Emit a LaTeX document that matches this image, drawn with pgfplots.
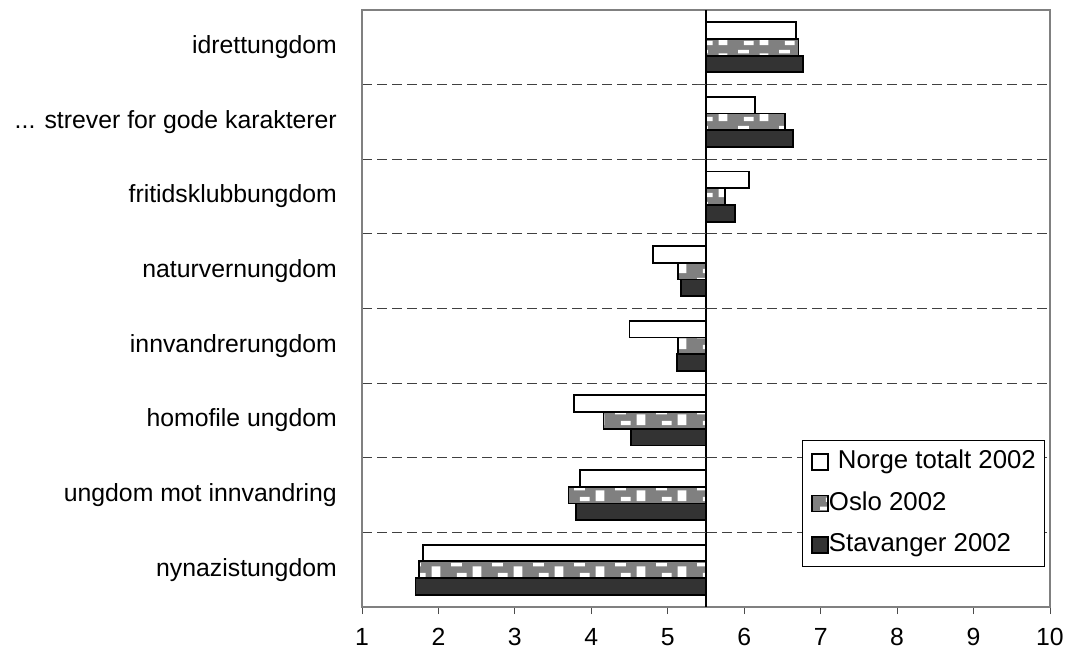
\documentclass[border=0pt]{standalone}
\usepackage{fontspec}
\setmainfont{Liberation Sans}
\usepackage{pgfplots}
\pgfplotsset{compat=1.18}
\usepackage{pgfplotstable}
\usetikzlibrary{patterns}

\definecolor{oslogray}{HTML}{808080}
\definecolor{stavgray}{HTML}{333333}

\pgfdeclarepatternformonly{oslo}{\pgfqpoint{0bp}{0bp}}{\pgfqpoint{41bp}{18.65bp}}{\pgfqpoint{41bp}{18.65bp}}{%
 \pgfpathrectangle{\pgfqpoint{0bp}{14bp}}{\pgfqpoint{11bp}{3.35bp}}%
 \pgfpathrectangle{\pgfqpoint{6bp}{3bp}}{\pgfqpoint{10bp}{4.35bp}}%
 \pgfpathrectangle{\pgfqpoint{22bp}{3bp}}{\pgfqpoint{9bp}{11bp}}%
 \pgfusepath{fill}}

\pgfplotsset{
  sqlegend/.style={legend image code/.code={\draw[##1] (0bp,-8bp) rectangle (16bp,8bp);}},
}

% values on a 1-10 scale; bars start at 5.5
\pgfplotstableread{
idx norge oslo stav
7 6.68 6.71 6.77
6 6.14 6.53 6.64
5 6.06 5.75 5.88
4 4.81 5.13 5.17
3 4.50 5.13 5.12
2 3.77 4.16 4.52
1 3.85 3.70 3.80
0 1.80 1.75 1.70
}\datatable

\newcommand{\threedots}{.\kern0pt.\kern0pt.}

\begin{document}
\fontsize{24.8bp}{29bp}\selectfont
\begin{tikzpicture}
\useasboundingbox (0,0) rectangle (1072bp,654bp);
\begin{axis}[
  at={(362bp,47bp)}, anchor=south west,
  scale only axis, width=688bp, height=597bp,
  xmin=-4.5, xmax=4.5, ymin=-0.5, ymax=7.5,
  xtick={-4.5,-3.5,-2.5,-1.5,-0.5,0.5,1.5,2.5,3.5,4.5},
  xticklabels={1,2,3,4,5,6,7,8,9,10},
  ytick={0,1,2,3,4,5,6,7},
  yticklabels={nynazistungdom,ungdom mot innvandring,homofile ungdom,innvandrerungdom,naturvernungdom,fritidsklubbungdom,{\threedots{} strever for gode karakterer},idrettungdom},
  minor ytick={0.5,1.5,2.5,3.5,4.5,5.5,6.5},
  yminorgrids=true,
  minor grid style={black!75, line width=1bp, dash pattern=on 10bp off 5bp},
  minor tick length=0pt,
  major tick length=7bp, tick align=outside,
  xtick pos=bottom,
  ytick style={draw=none},
  xtick style={black!70, line width=1bp},
  axis line style={black!50, line width=1.2bp},
  /pgf/number format/assume math mode=true,
  ticklabel style={font=\fontsize{24.8bp}{29bp}\selectfont},
  yticklabel style={inner sep=0pt, xshift=-18bp},
  xticklabel style={inner sep=0pt, yshift=-14bp},
  legend style={at={(0.639,0.28)}, anchor=north west, draw=black, line width=1bp,
     font=\fontsize{25.8bp}{30bp}\selectfont,
     inner xsep=9bp, inner ysep=10bp, row sep=18.7bp,
     nodes={inner sep=0pt, text height=18bp, text depth=5bp},
     /tikz/every even column/.append style={column sep=6bp}},
  legend cell align=left,
]
\addplot[xbar, bar width=0.224, draw=black, line width=1.8bp, fill=white,
   sqlegend, bar shift=0.224]
  table[x expr=\thisrow{norge}-5.5, y=idx] {\datatable};
\addlegendentry{\hspace{9bp}Norge totalt 2002}
\addplot[xbar, bar width=0.224, draw=black, line width=1.8bp,
   preaction={fill=oslogray}, pattern=oslo, pattern color=white,
   sqlegend, bar shift=0]
  table[x expr=\thisrow{oslo}-5.5, y=idx] {\datatable};
\addlegendentry{Oslo 2002}
\addplot[xbar, bar width=0.224, draw=black, line width=1.8bp, fill=stavgray,
   sqlegend, bar shift=-0.224]
  table[x expr=\thisrow{stav}-5.5, y=idx] {\datatable};
\addlegendentry{Stavanger 2002}
\draw[black, line width=1.2bp] (axis cs:0,-0.5) -- (axis cs:0,7.5);
\pgfplotsinvokeforeach{-0.5,0.5,1.5,2.5,3.5,4.5,5.5,6.5}{
  \draw[black!70, line width=1bp] (axis cs:0,#1) -- ([xshift=-9bp]axis cs:0,#1);
}
\end{axis}
\end{tikzpicture}
\end{document}
